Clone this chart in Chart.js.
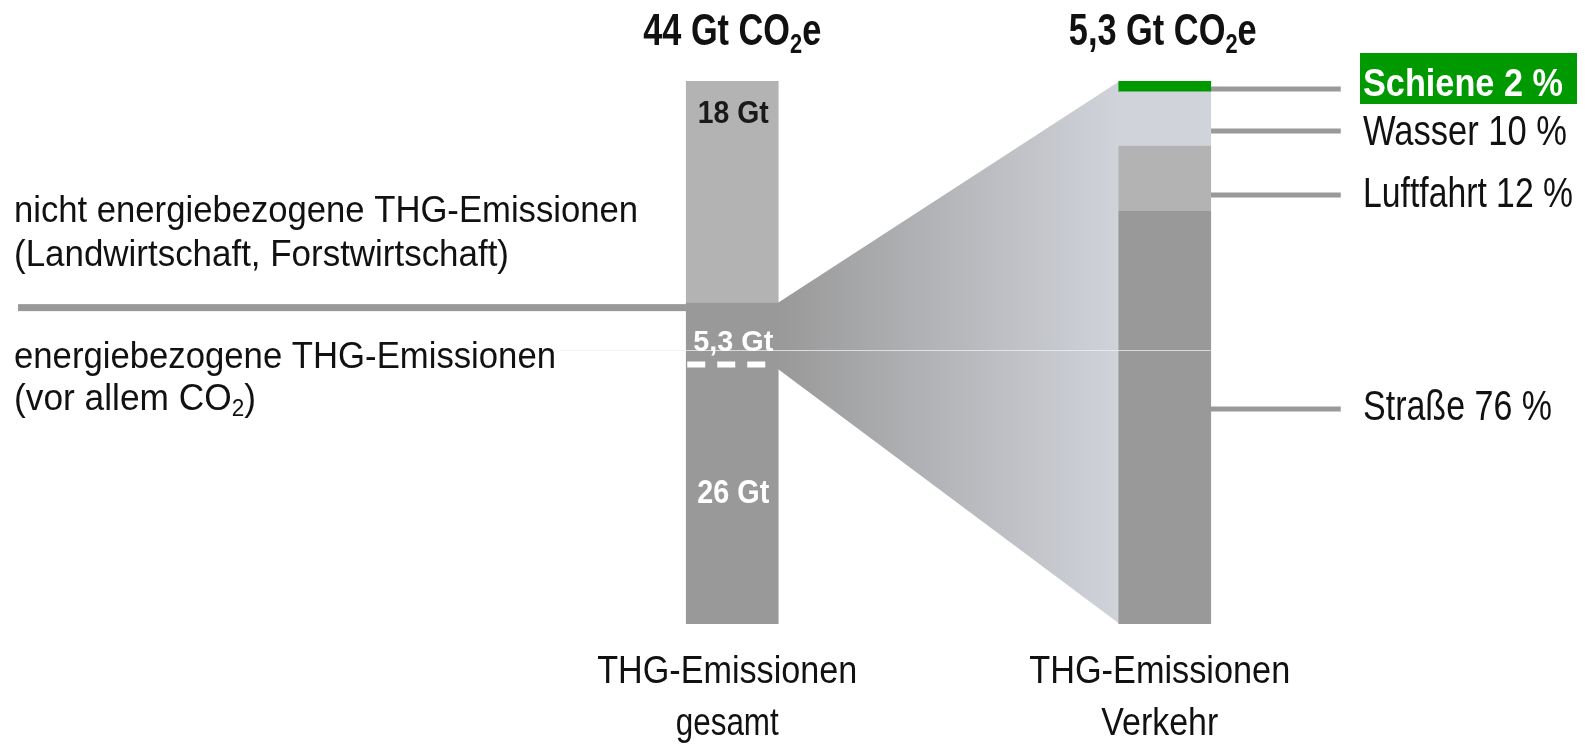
<!DOCTYPE html>
<html lang="de">
<head>
<meta charset="utf-8">
<title>THG-Emissionen gesamt und Verkehr</title>
<script src="https://cdn.jsdelivr.net/npm/chart.js@4.4.1/dist/chart.umd.min.js"></script>
<style>
  html, body { margin: 0; padding: 0; background: #fff; }
  #wrap { width: 1585px; height: 744px; }
</style>
</head>
<body>
<div id="wrap"><canvas id="chart" width="1585" height="744"></canvas></div>
<script>
// Kategorien (Beschriftung unter den Balken)
const categories = [['THG-Emissionen', 'gesamt'], ['THG-Emissionen', 'Verkehr']];

// Linker Balken: weltweite THG-Emissionen in Gt CO2e
const totalGt = 44;
const energieGt = [26, null];       // energiebezogen
const nichtEnergieGt = [18, null];  // nicht energiebezogen
const verkehrGt = 5.3;              // davon Verkehr

// Rechter Balken: Anteile am Verkehr in %
const strasse = [null, 76];
const luftfahrt = [null, 12];
const wasser = [null, 10];
const schiene = [null, 2];

const titles = ['44 Gt CO₂e', '5,3 Gt CO₂e'];
const verkehrNamen = ['Straße 76 %', 'Luftfahrt 12 %', 'Wasser 10 %', 'Schiene 2 %'];

// Farben
const DUNKEL = '#999999';
const HELL = '#b3b3b3';
const BLAUGRAU = '#d0d3da';
const GRUEN = '#009900';

const FONT = '"Liberation Sans", Arial, sans-serif';

// Text zeichnen, optional horizontal gestaucht auf Zielbreite w; "₂" wird tiefgestellt
function txt(ctx, s, x, y, o) {
  const size = o.size;
  const weight = o.bold ? 'bold ' : '';
  const teile = s.split('₂');
  const stuecke = [];
  teile.forEach((t, i) => {
    if (t) stuecke.push({ t: t, sub: false });
    if (i < teile.length - 1) stuecke.push({ t: '2', sub: true });
  });
  ctx.save();
  ctx.textBaseline = 'alphabetic';
  ctx.textAlign = 'left';
  let breite = 0;
  stuecke.forEach(p => {
    ctx.font = weight + Math.round(p.sub ? size * 0.64 : size) + 'px ' + FONT;
    p.w = ctx.measureText(p.t).width;
    breite += p.w;
  });
  const sx = o.w ? o.w / breite : 1;
  const x0 = o.align === 'center' ? x - breite * sx / 2 : x;
  ctx.translate(x0, y);
  ctx.scale(sx, 1);
  ctx.fillStyle = o.color || '#111';
  let cx = 0;
  stuecke.forEach(p => {
    ctx.font = weight + Math.round(p.sub ? size * 0.64 : size) + 'px ' + FONT;
    ctx.fillText(p.t, cx, p.sub ? size * 0.18 : 0);
    cx += p.w;
  });
  ctx.restore();
}

const deko = {
  id: 'deko',
  beforeDatasetsDraw(chart) {
    const ctx = chart.ctx;
    const yL = chart.scales.yL, yR = chart.scales.yR;
    const lb = chart.getDatasetMeta(0).data[0].getProps(['x', 'width'], true);
    const rb = chart.getDatasetMeta(2).data[1].getProps(['x', 'width'], true);
    const x1 = lb.x + lb.width / 2;
    const x2 = rb.x - rb.width / 2;
    const t1 = yL.getPixelForValue(energieGt[0]);
    const b1 = yL.getPixelForValue(energieGt[0] - verkehrGt);
    const t2 = yR.getPixelForValue(100);
    const b2 = yR.getPixelForValue(0);

    // Trichter vom 5,3-Gt-Abschnitt zum Verkehrsbalken
    const grad = ctx.createLinearGradient(x1, 0, x2, 0);
    grad.addColorStop(0, DUNKEL);
    grad.addColorStop(1, BLAUGRAU);
    ctx.save();
    ctx.fillStyle = grad;
    ctx.beginPath();
    ctx.moveTo(x1 - 1, t1);
    ctx.lineTo(x2 + 1, t2);
    ctx.lineTo(x2 + 1, b2);
    ctx.lineTo(x1 - 1, b1);
    ctx.closePath();
    ctx.fill();

    // Trennlinie links
    ctx.fillStyle = DUNKEL;
    ctx.fillRect(18, t1 + 1, (lb.x - lb.width / 2) - 18, 7);

    // Fuehrungslinien rechts
    const linienY = [409, 195, 131, 89];
    linienY.forEach(y => ctx.fillRect(x2 + rb.width - 6, y - 2.5, 136, 5));
    ctx.restore();
  },
  afterDatasetsDraw(chart) {
    const ctx = chart.ctx;
    const yL = chart.scales.yL;
    const lb = chart.getDatasetMeta(0).data[0].getProps(['x', 'width'], true);
    const rb = chart.getDatasetMeta(2).data[1].getProps(['x', 'width'], true);
    const b1 = yL.getPixelForValue(energieGt[0] - verkehrGt);

    // feine helle Linie quer durchs Bild
    ctx.save();
    ctx.strokeStyle = 'rgba(236,242,245,0.75)';
    ctx.lineWidth = 1;
    ctx.beginPath();
    ctx.moveTo(560, 350.5);
    ctx.lineTo(rb.x + rb.width / 2, 350.5);
    ctx.stroke();

    // gestrichelte Grenze des Verkehrsanteils
    ctx.strokeStyle = '#fff';
    ctx.lineWidth = 6;
    ctx.setLineDash([18, 12]);
    ctx.beginPath();
    ctx.moveTo(lb.x - lb.width / 2 + 1, b1 - 4);
    ctx.lineTo(lb.x + lb.width / 2 - 10, b1 - 4);
    ctx.stroke();
    ctx.restore();

    // Titel ueber den Balken
    txt(ctx, titles[0], lb.x, 45, { size: 44, bold: true, w: 178, align: 'center' });
    txt(ctx, titles[1], rb.x - 2, 45, { size: 44, bold: true, w: 188, align: 'center' });

    // Werte im linken Balken
    txt(ctx, nichtEnergieGt[0] + ' Gt', lb.x + 1, 123, { size: 32, bold: true, w: 71, align: 'center', color: '#1a1a1a' });
    txt(ctx, String(verkehrGt).replace('.', ',') + ' Gt', lb.x + 1, 351, { size: 30, bold: true, w: 80, align: 'center', color: '#fff' });
    txt(ctx, energieGt[0] + ' Gt', lb.x + 1, 503, { size: 33, bold: true, w: 72, align: 'center', color: '#fff' });

    // Beschriftungen rechts
    ctx.fillStyle = GRUEN;
    ctx.fillRect(1360, 53, 217, 51);
    txt(ctx, verkehrNamen[3], 1363, 96, { size: 38, bold: true, w: 200, color: '#fff' });
    txt(ctx, verkehrNamen[2], 1363, 145, { size: 42, w: 204 });
    txt(ctx, verkehrNamen[1], 1363, 207, { size: 42, w: 210 });
    txt(ctx, verkehrNamen[0], 1363, 420, { size: 42, w: 189 });

    // Beschriftungen links
    txt(ctx, 'nicht energiebezogene THG-Emissionen', 14, 222, { size: 36, w: 624 });
    txt(ctx, '(Landwirtschaft, Forstwirtschaft)', 14, 266, { size: 36, w: 495 });
    txt(ctx, 'energiebezogene THG-Emissionen', 14, 368, { size: 36, w: 542 });
    txt(ctx, '(vor allem CO₂)', 14, 410, { size: 36, w: 242 });

    // Kategorien unten
    const breiten = [[260, 103], [261, 117]];
    [lb, rb].forEach((b, i) => {
      const zeilen = chart.data.labels[i];
      txt(ctx, zeilen[0], b.x - 5, 683, { size: 39, w: breiten[i][0], align: 'center' });
      txt(ctx, zeilen[1], b.x - 5, 735, { size: 39, w: breiten[i][1], align: 'center' });
    });
  }
};

new Chart(document.getElementById('chart'), {
  type: 'bar',
  data: {
    labels: categories,
    datasets: [
      { label: 'energiebezogen', data: energieGt, yAxisID: 'yL', backgroundColor: DUNKEL },
      { label: 'nicht energiebezogen', data: nichtEnergieGt, yAxisID: 'yL', backgroundColor: HELL },
      { label: 'Straße', data: strasse, yAxisID: 'yR', backgroundColor: DUNKEL },
      { label: 'Luftfahrt', data: luftfahrt, yAxisID: 'yR', backgroundColor: HELL },
      { label: 'Wasser', data: wasser, yAxisID: 'yR', backgroundColor: BLAUGRAU },
      { label: 'Schiene', data: schiene, yAxisID: 'yR', backgroundColor: GRUEN }
    ]
  },
  options: {
    responsive: false,
    animation: false,
    devicePixelRatio: 1,
    layout: { padding: { left: 516, right: 204, top: 81, bottom: 120 } },
    datasets: { bar: { barThickness: 92, borderWidth: 0, stack: 'alle' } },
    plugins: { legend: { display: false }, tooltip: { enabled: false } },
    scales: {
      x: { display: false, stacked: true },
      yL: { type: 'linear', axis: 'y', display: false, stacked: true, min: 0, max: totalGt },
      yR: { type: 'linear', axis: 'y', display: false, stacked: true, min: 0, max: 100 }
    }
  },
  plugins: [deko]
});
</script>
</body>
</html>
